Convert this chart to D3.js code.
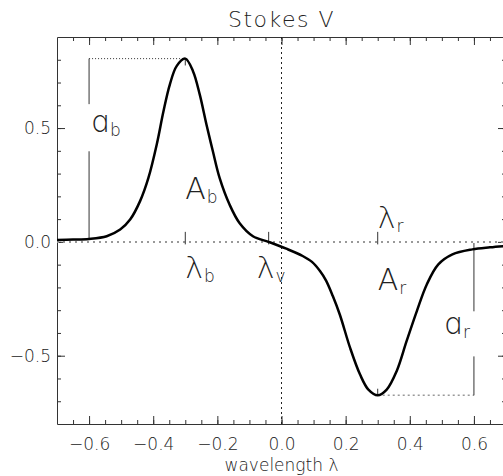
<!DOCTYPE html>
<html>
<head>
<meta charset="utf-8">
<script src="https://cdn.jsdelivr.net/npm/d3@7"></script>
<style>
  body { margin: 0; background: #fff; }
  text { font-family: "DejaVu Sans", sans-serif; fill: #222; font-weight: 200; }
</style>
</head>
<body>
<svg id="chart" width="503" height="476"></svg>
<script>
// wavelength samples
const waveX = [-0.70, -0.65, -0.60, -0.545, -0.503, -0.472, -0.441, -0.415, -0.389, -0.368,
  -0.348, -0.327, -0.30, -0.276, -0.255, -0.234, -0.214, -0.193, -0.162, -0.131,
  -0.089, -0.04, 0.015, 0.066, 0.095, 0.12, 0.139, 0.16, 0.182, 0.214, 0.245,
  0.271, 0.30, 0.328, 0.359, 0.39, 0.422, 0.453, 0.489, 0.533, 0.595,
  0.65, 0.70];
const stokesV = [0.008, 0.010, 0.013, 0.025, 0.054, 0.098, 0.179, 0.281, 0.428, 0.574,
  0.692, 0.772, 0.805, 0.75, 0.648, 0.516, 0.398, 0.281, 0.164, 0.083,
  0.025, 0.0, -0.030, -0.062, -0.088, -0.128, -0.170, -0.238, -0.320, -0.466, -0.583,
  -0.649, -0.674, -0.649, -0.568, -0.436, -0.304, -0.187, -0.099, -0.055, -0.033,
  -0.024, -0.018];

const xMajor = [-0.6, -0.4, -0.2, 0, 0.2, 0.4, 0.6];
const yMajor = [-0.5, 0, 0.5];

// characteristic points of the profile
const lambdaB = -0.3, lambdaV = -0.04, lambdaR = 0.3;
const ampB = 0.805, ampR = -0.674;
const aB = -0.6, aR = 0.6;

const svg = d3.select("#chart");

const x = d3.scaleLinear().domain([-0.7, 0.7]).range([57, 506]);
const y = d3.scaleLinear().domain([-0.8, 0.9]).range([424, 37]);

const xMinor = d3.range(-0.65, 0.70, 0.05).map(d => +d.toFixed(2));
const yMinor = d3.range(-0.7, 0.9, 0.1).map(d => +d.toFixed(1));
const fmt = d3.format(".1f");

function styleAxis(g) {
  g.selectAll("path, line").attr("stroke", "#333").attr("stroke-width", 1);
  g.selectAll("text").attr("font-size", 17).attr("fill", "#222")
    .attr("font-family", "'DejaVu Sans', sans-serif").attr("font-weight", 200);
}

// minor ticks
svg.append("g").attr("transform", `translate(0,${y.range()[0]})`)
  .call(d3.axisBottom(x).tickValues(xMinor).tickSize(-4).tickFormat(""))
  .call(g => g.select(".domain").remove()).call(styleAxis);
svg.append("g").attr("transform", `translate(0,${y.range()[1]})`)
  .call(d3.axisTop(x).tickValues(xMinor).tickSize(-4).tickFormat(""))
  .call(g => g.select(".domain").remove()).call(styleAxis);
svg.append("g").attr("transform", `translate(${x.range()[0]},0)`)
  .call(d3.axisLeft(y).tickValues(yMinor).tickSize(-4).tickFormat(""))
  .call(g => g.select(".domain").remove()).call(styleAxis);
svg.append("g").attr("transform", `translate(${x.range()[1]},0)`)
  .call(d3.axisRight(y).tickValues(yMinor).tickSize(-4).tickFormat(""))
  .call(g => g.select(".domain").remove()).call(styleAxis);

// major ticks + frame
svg.append("g").attr("transform", `translate(0,${y.range()[0]})`)
  .call(d3.axisBottom(x).tickValues(xMajor).tickSize(-8).tickSizeOuter(0)
    .tickPadding(14).tickFormat(fmt)).call(styleAxis);
svg.append("g").attr("transform", `translate(0,${y.range()[1]})`)
  .call(d3.axisTop(x).tickValues(xMajor).tickSize(-8).tickSizeOuter(0).tickFormat(""))
  .call(styleAxis);
svg.append("g").attr("transform", `translate(${x.range()[0]},0)`)
  .call(d3.axisLeft(y).tickValues(yMajor).tickSize(-8).tickSizeOuter(0)
    .tickPadding(6).tickFormat(fmt)).call(styleAxis);
svg.append("g").attr("transform", `translate(${x.range()[1]},0)`)
  .call(d3.axisRight(y).tickValues(yMajor).tickSize(-8).tickSizeOuter(0).tickFormat(""))
  .call(styleAxis);

// reference lines
svg.append("line")
  .attr("x1", x(-0.7)).attr("x2", x(0.7)).attr("y1", y(0)).attr("y2", y(0))
  .attr("stroke", "#999").attr("stroke-width", 2).attr("stroke-dasharray", "2,4");
svg.append("line")
  .attr("x1", x(0)).attr("x2", x(0)).attr("y1", y(0.9)).attr("y2", y(-0.8))
  .attr("stroke", "#222").attr("stroke-width", 1).attr("stroke-dasharray", "2,3");

// amplitude guides
svg.append("line")
  .attr("x1", x(aB)).attr("x2", x(lambdaB)).attr("y1", y(ampB)).attr("y2", y(ampB))
  .attr("stroke", "#333").attr("stroke-width", 1).attr("stroke-dasharray", "1,2");
svg.append("line")
  .attr("x1", x(lambdaR)).attr("x2", x(aR)).attr("y1", y(ampR)).attr("y2", y(ampR))
  .attr("stroke", "#999").attr("stroke-width", 1.5).attr("stroke-dasharray", "2,3");

const solid = [
  [aB, ampB, aB, 0.605], [aB, 0.398, aB, 0.011],
  [aR, -0.005, aR, -0.305], [aR, -0.503, aR, ampR],
  [lambdaB, 0.044, lambdaB, -0.011], [lambdaV, 0.044, lambdaV, -0.011],
  [lambdaR, 0.044, lambdaR, -0.011],
  [lambdaB, ampB, lambdaB, 0.775], [lambdaR, ampR, lambdaR, -0.645]
];
svg.append("g").selectAll("line").data(solid).join("line")
  .attr("x1", d => x(d[0])).attr("y1", d => y(d[1]))
  .attr("x2", d => x(d[2])).attr("y2", d => y(d[3]))
  .attr("stroke", "#333").attr("stroke-width", 1);

// profile
const line = d3.line().x((d, i) => x(waveX[i])).y(d => y(d)).curve(d3.curveCatmullRom);
svg.append("path").datum(stokesV)
  .attr("d", line).attr("fill", "none").attr("stroke", "#000").attr("stroke-width", 2.5);

// symbol labels
const labels = [
  { main: "\u0251", sub: "b", px: x(aB) + 1, py: y(0.5) + 4 },
  { main: "A", sub: "b", px: x(lambdaB), py: y(0.19) },
  { main: "\u03bb", sub: "b", px: x(lambdaB), py: y(-0.16) },
  { main: "\u03bb", sub: "v", px: x(lambdaV) - 12, py: y(-0.16) },
  { main: "\u03bb", sub: "r", px: x(lambdaR), py: y(0.06) },
  { main: "A", sub: "r", px: x(lambdaR), py: y(-0.21) },
  { main: "\u0251", sub: "r", px: x(aR) - 31, py: y(-0.405) }
];
const lab = svg.append("g").selectAll("text").data(labels).join("text")
  .attr("x", d => d.px).attr("y", d => d.py)
  .attr("font-size", 30);
lab.append("tspan").text(d => d.main);
lab.append("tspan").attr("font-size", 17).attr("dy", 4).attr("dx", 1).text(d => d.sub);

// title and axis label
svg.append("text").attr("x", 281.5).attr("y", 27).attr("text-anchor", "middle")
  .attr("font-size", 22).attr("letter-spacing", 1.5).text("Stokes V");
svg.append("text").attr("x", 281.5).attr("y", 471).attr("text-anchor", "middle")
  .attr("font-size", 17).text("wavelength \u03bb");
</script>
</body>
</html>
